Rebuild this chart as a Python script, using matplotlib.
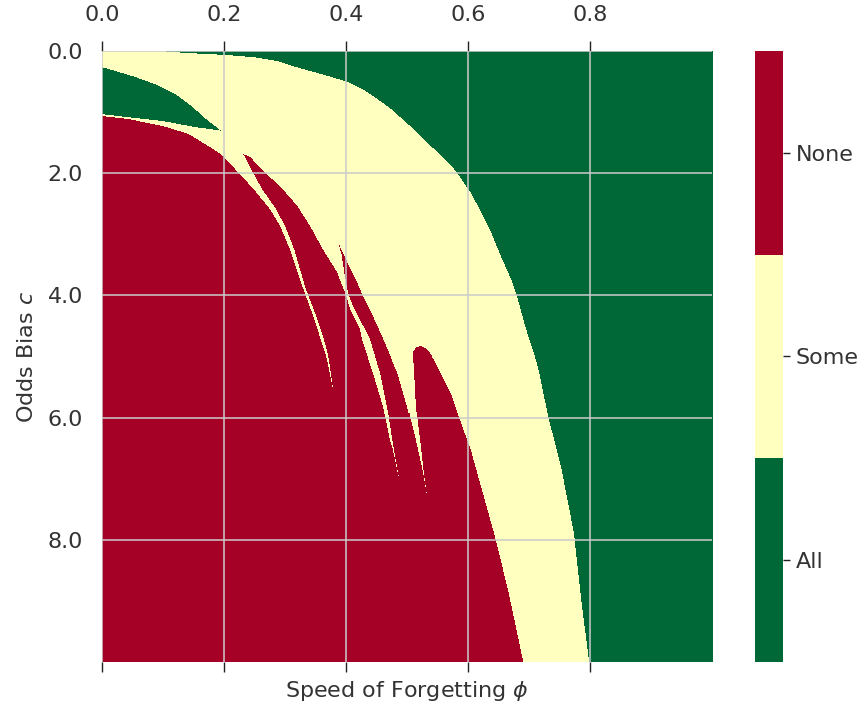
import numpy as np
import matplotlib.pyplot as plt
from matplotlib.path import Path

# outcome codes
ALL, SOME, NONE = 0, 1, 2
outcome_labels = ["All", "Some", "None"]

# parameter ranges (speed of forgetting phi, odds bias c)
phi_range = (0.0, 1.0)
c_range = (0.0, 10.0)

# boundary "All" (upper right) / "Some"
all_edge_phi = [0.043, 0.098, 0.141, 0.202, 0.250, 0.287, 0.325, 0.362, 0.402, 0.430,
                0.451, 0.472, 0.489, 0.521, 0.554, 0.570, 0.584, 0.603, 0.620, 0.636, 0.652,
                0.669, 0.680, 0.693, 0.713, 0.730, 0.751, 0.772, 0.784, 0.797]
all_edge_c = [0.00, 0.02, 0.05, 0.08, 0.12, 0.18, 0.30, 0.40, 0.52, 0.66,
              0.80, 0.95, 1.10, 1.41, 1.73, 1.88, 2.06, 2.34, 2.65, 2.98, 3.37,
              3.75, 4.08, 4.55, 5.17, 5.99, 6.81, 7.89, 8.99, 10.0]

# small "All" wedge at low phi
wedge_phi = [0.0, 0.021, 0.054, 0.087, 0.120, 0.148, 0.174, 0.195, 0.152, 0.098, 0.043, 0.0]
wedge_c = [0.28, 0.34, 0.44, 0.56, 0.72, 0.93, 1.16, 1.32, 1.26, 1.16, 1.10, 1.05]

# outer edge of the "None" region
none_phi = [0.0, 0.0, 0.043, 0.098, 0.141, 0.164, 0.182, 0.198, 0.231, 0.243, 0.264, 0.292,
            0.320, 0.341, 0.362, 0.389, 0.402, 0.418, 0.428, 0.444, 0.461, 0.508, 0.513,
            0.521, 0.531, 0.543, 0.559, 0.570, 0.587, 0.603, 0.620, 0.641, 0.664, 0.689]
none_c = [10.0, 1.08, 1.13, 1.24, 1.37, 1.51, 1.62, 1.73, 1.70, 1.75, 1.98, 2.23,
          2.55, 2.88, 3.26, 3.19, 3.47, 3.80, 4.03, 4.35, 4.73, 4.94, 4.87,
          4.84, 4.89, 5.06, 5.38, 5.60, 6.09, 6.53, 7.14, 7.89, 8.82, 10.0]

# thin "Some" slits cutting into the "None" region
slit1_phi = [0.196, 0.198, 0.221, 0.248, 0.275, 0.292, 0.308, 0.330, 0.346, 0.362, 0.369, 0.379,
             0.372, 0.367, 0.351, 0.334, 0.315, 0.300, 0.285, 0.262, 0.246, 0.233, 0.226]
slit1_c = [1.66, 1.73, 1.98, 2.27, 2.60, 2.88, 3.26, 3.91, 4.35, 4.84, 5.06, 5.55,
           5.06, 4.84, 4.35, 3.91, 3.26, 2.88, 2.60, 2.27, 1.98, 1.73, 1.65]

slit2_phi = [0.362, 0.362, 0.385, 0.398, 0.407, 0.423, 0.426, 0.444, 0.461, 0.472, 0.477, 0.489,
             0.479, 0.469, 0.456, 0.439, 0.431, 0.410, 0.403, 0.397, 0.393, 0.389, 0.389]
slit2_c = [3.12, 3.26, 3.63, 3.96, 4.24, 4.57, 4.73, 5.27, 5.83, 6.37, 6.53, 7.10,
           6.56, 5.92, 5.27, 4.73, 4.57, 4.16, 3.96, 3.63, 3.36, 3.21, 3.08]

slit3_phi = [0.457, 0.461, 0.484, 0.500, 0.513, 0.525, 0.533,
             0.526, 0.520, 0.513, 0.510, 0.508, 0.510]
slit3_c = [4.63, 4.73, 5.27, 5.83, 6.37, 6.91, 7.40,
           6.91, 6.37, 5.83, 5.27, 4.94, 4.63]

# raster grid
nx, ny = 610, 611
phi_cells = phi_range[0] + (np.arange(nx) + 0.5) * (phi_range[1] - phi_range[0]) / nx
c_cells = c_range[0] + (np.arange(ny) + 0.5) * (c_range[1] - c_range[0]) / ny
PHI, C = np.meshgrid(phi_cells, c_cells)
pts = np.column_stack([PHI.ravel(), C.ravel()])


def inside(phis, cs):
    path = Path(np.column_stack([phis, cs]))
    return path.contains_points(pts).reshape(PHI.shape)


band_phi = [0.0] + all_edge_phi + [0.0]
band_c = [0.0] + all_edge_c + [10.0]

outcome = np.full(PHI.shape, ALL)
outcome[inside(band_phi, band_c)] = SOME
outcome[inside(wedge_phi, wedge_c)] = ALL
outcome[inside(none_phi, none_c)] = NONE
for sp, sc in [(slit1_phi, slit1_c), (slit2_phi, slit2_c), (slit3_phi, slit3_c)]:
    outcome[inside(sp, sc)] = SOME

cmap = plt.get_cmap("RdYlGn_r", 3)
text_col = "#333333"
fs = 16

fig = plt.figure(figsize=(8.68, 7.05), dpi=100)
ax = fig.add_axes([0.1175, 0.061, 0.7028, 0.8667])
cax = fig.add_axes([0.870, 0.061, 0.032, 0.8667])

im = ax.imshow(outcome, cmap=cmap, vmin=-0.5, vmax=2.5, aspect="auto",
               interpolation="nearest",
               extent=[phi_range[0], phi_range[1], c_range[1], c_range[0]])

ax.set_xticks([0.0, 0.2, 0.4, 0.6, 0.8])
ax.set_xticklabels(["0.0", "0.2", "0.4", "0.6", "0.8"])
ax.set_yticks([0.0, 2.0, 4.0, 6.0, 8.0])
ax.set_yticklabels(["0.0", "2.0", "4.0", "6.0", "8.0"])
ax.set_xlim(0, 1)
ax.set_ylim(10, 0)

ax.tick_params(axis="x", top=True, labeltop=True, bottom=True, labelbottom=False,
               direction="out", length=7, width=1, color="#222222",
               labelsize=fs, labelcolor=text_col, pad=12)
ax.tick_params(axis="y", left=False, labelsize=fs, labelcolor=text_col, pad=10)

ax.grid(True, color="#cccccc", linewidth=1.1)
ax.set_axisbelow(False)
for s in ax.spines.values():
    s.set_visible(False)

ax.set_xlabel(r"Speed of Forgetting $\phi$", fontsize=fs, color=text_col, labelpad=5)
ax.set_ylabel(r"Odds Bias $c$", fontsize=fs, color=text_col, labelpad=8)

cb = fig.colorbar(im, cax=cax, ticks=[ALL, SOME, NONE])
cb.ax.set_yticklabels(outcome_labels)
cb.outline.set_visible(False)
cb.ax.tick_params(length=5, width=1, color="#222222", labelsize=fs,
                  labelcolor=text_col, pad=4)

fig.savefig("out.png", dpi=100)
